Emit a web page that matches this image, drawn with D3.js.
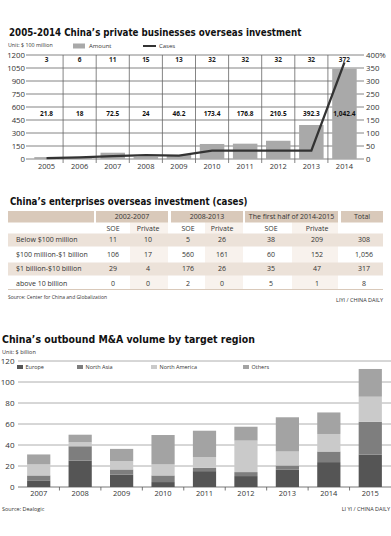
<!DOCTYPE html>
<html><head><meta charset="utf-8">
<script src="https://cdn.jsdelivr.net/npm/d3@7"></script>
<style>body{margin:0;background:#fff}svg{display:block}text{font-family:"Open Sans",Lato,sans-serif;fill:#333}</style>
</head><body><svg id="c" width="391" height="536"></svg>
<script>
// ---- Chart 1 data ----
const years1 = ["2005","2006","2007","2008","2009","2010","2011","2012","2013","2014"];
const amount = [21.8,18,72.5,24,46.2,173.4,176.8,210.5,392.3,1042.4];
const amountLabels = ["21.8","18","72.5","24","46.2","173.4","176.8","210.5","392.3","1,042.4"];
const cases = [3,6,11,15,13,32,32,32,32,372];
const leftTicks = [0,150,300,450,600,750,900,1050,1200];
const rightTicks = [0,50,100,150,200,250,300,350,400];
const rightTickLabels = ["0","50","100","150","200","250","300","350","400%"];

// ---- Table data ----
const periods = ["2002-2007","2008-2013","The first half of 2014-2015","Total"];
const subHeads = ["SOE","Private","SOE","Private","SOE","Private",""];
const rowLabels = ["Below $100 million","$100 million-$1 billion","$1 billion-$10 billion","above 10 billion"];
const tableValues = [
  ["11","10","5","26","38","209","308"],
  ["106","17","560","161","60","152","1,056"],
  ["29","4","176","26","35","47","317"],
  ["0","0","2","0","5","1","8"]
];

// ---- Chart 3 data ----
const years2 = ["2007","2008","2009","2010","2011","2012","2013","2014","2015"];
const regions = ["Europe","North Asia","North America","Others"];
const europe = [6.3,25.2,11.7,4.7,15.1,10.4,16.4,23.7,30.9];
const northAsia = [4.7,13.6,5.0,6.3,3.2,3.8,4.1,10.1,31.2];
const northAmerica = [10.5,3.8,7.9,10.5,10.1,30.0,13.3,16.7,23.9];
const others = [9.5,7.2,11.7,28.0,25.2,13.2,32.6,20.5,26.4];
const ticks2 = [0,20,40,60,80,100,120];

const svg = d3.select("#c");
const titleFont = '"Liberation Sans Narrow","DejaVu Sans Condensed","Liberation Sans",sans-serif';

function title(x, y, size, len, t){
  const el = svg.append("text").attr("x",x).attr("y",y).attr("font-size",size).attr("font-weight","bold")
    .style("font-family",titleFont).style("fill","#111").text(t);
  const L = el.node().getComputedTextLength();
  if (L > 0) el.attr("font-size", size * len / L);
}

// ================= Chart 1 =================
title(9, 36, 13, 293, "2005-2014 China\u2019s private businesses overseas investment");
svg.append("text").attr("x",8).attr("y",45.5).attr("dy","0.35em").attr("font-size",5.3).text("Unit: $ 100 million");
svg.append("rect").attr("x",73).attr("y",43.5).attr("width",12).attr("height",5).attr("fill","#a9a9a9");
svg.append("text").attr("x",89).attr("y",46).attr("dy","0.35em").attr("font-size",6).text("Amount");
svg.append("line").attr("x1",143).attr("x2",156).attr("y1",46).attr("y2",46).attr("stroke","#333").attr("stroke-width",2);
svg.append("text").attr("x",159).attr("y",46).attr("dy","0.35em").attr("font-size",6).text("Cases");

const x1 = d3.scaleBand().domain(years1).range([30,361]);
const yL = d3.scaleLinear().domain([0,1200]).range([159,55]);
const yR = d3.scaleLinear().domain([0,400]).range([159,55]);
const bw1 = x1.bandwidth();

const g1 = svg.append("g");
g1.selectAll("line.h").data(leftTicks).join("line").attr("class","h")
  .attr("x1",26).attr("x2",364).attr("y1",d=>yL(d)).attr("y2",d=>yL(d))
  .attr("stroke","#666").attr("stroke-width",0.8);
g1.selectAll("line.v").data(years1.slice(1)).join("line").attr("class","v")
  .attr("x1",d=>x1(d)).attr("x2",d=>x1(d)).attr("y1",yL(1200)).attr("y2",yL(0)+4)
  .attr("stroke","#666").attr("stroke-width",0.8);

g1.selectAll("text.yl").data(leftTicks).join("text").attr("class","yl")
  .attr("x",25).attr("y",d=>yL(d)).attr("dy","0.35em").attr("text-anchor","end")
  .attr("font-size",7.8).text(d=>d);
g1.selectAll("text.yr").data(rightTicks).join("text").attr("class","yr")
  .attr("x",366).attr("y",d=>yR(d)).attr("dy","0.35em")
  .attr("font-size",7.8).text((d,i)=>rightTickLabels[i]);

g1.selectAll("rect.bar").data(amount).join("rect").attr("class","bar")
  .attr("x",(d,i)=>x1(years1[i])+bw1*0.13).attr("width",bw1*0.74)
  .attr("y",d=>yL(d)).attr("height",d=>yL(0)-yL(d)).attr("fill","#a9a9a9");

g1.append("path").datum(cases)
  .attr("d", d3.line().x((d,i)=>x1(years1[i])+bw1/2).y(d=>yR(d)))
  .attr("fill","none").attr("stroke","#333").attr("stroke-width",2.3);

g1.selectAll("text.cl").data(cases).join("text").attr("class","cl")
  .attr("x",(d,i)=>x1(years1[i])+bw1/2).attr("y",59.5).attr("dy","0.35em").attr("text-anchor","middle")
  .attr("font-size",6.5).attr("font-weight","bold").style("fill","#222").text(d=>d);
g1.selectAll("text.al").data(amountLabels).join("text").attr("class","al")
  .attr("x",(d,i)=>x1(years1[i])+bw1/2).attr("y",114).attr("dy","0.35em").attr("text-anchor","middle")
  .attr("font-size",6.5).attr("font-weight","bold").style("fill","#111").text(d=>d);
g1.selectAll("text.xl").data(years1).join("text").attr("class","xl")
  .attr("x",d=>x1(d)+bw1/2).attr("y",166).attr("dy","0.35em").attr("text-anchor","middle")
  .attr("font-size",7.5).text(d=>d);

// ================= Table =================
title(10, 205, 13, 238, "China\u2019s enterprises overseas investment (cases)");
const headFill = "#d9c9ba", bandFill = "#ece2d9", privFill = "#f8f2ed";
const headCells = [[8,94],[96,168],[171,243],[245,338],[341,383]];
const colCenters = [113,148,188,222,271,317,364];
const privCols = [[130,168],[205,243],[292,338]];
const rowY = [240,254.5,269,283.5];
const gt = svg.append("g");
gt.selectAll("rect.pc").data(privCols).join("rect").attr("class","pc")
  .attr("x",d=>d[0]).attr("width",d=>d[1]-d[0]).attr("y",222).attr("height",67).attr("fill",privFill);
gt.selectAll("rect.band").data(rowY.filter((d,i)=>i%2===0)).join("rect").attr("class","band")
  .attr("x",8).attr("width",375).attr("y",d=>d-6.5).attr("height",13).attr("fill",bandFill);
gt.selectAll("rect.hd").data(headCells).join("rect").attr("class","hd")
  .attr("x",d=>d[0]).attr("width",d=>d[1]-d[0]).attr("y",211).attr("height",11.5).attr("fill",headFill);
gt.selectAll("text.hd").data(periods).join("text").attr("class","hd")
  .attr("x",(d,i)=>(headCells[i+1][0]+headCells[i+1][1])/2).attr("y",216.8).attr("dy","0.35em")
  .attr("text-anchor","middle").attr("font-size",7).text(d=>d);
gt.selectAll("text.sh").data(subHeads).join("text").attr("class","sh")
  .attr("x",(d,i)=>colCenters[i]).attr("y",228.5).attr("dy","0.35em")
  .attr("text-anchor","middle").attr("font-size",7).text(d=>d);
gt.selectAll("text.rl").data(rowLabels).join("text").attr("class","rl")
  .attr("x",16).attr("y",(d,i)=>rowY[i]).attr("dy","0.35em").attr("font-size",7).text(d=>d);
tableValues.forEach((row,r)=>{
  gt.selectAll("text.v"+r).data(row).join("text").attr("class","v"+r)
    .attr("x",(d,i)=>colCenters[i]).attr("y",rowY[r]).attr("dy","0.35em")
    .attr("text-anchor","middle").attr("font-size",7).text(d=>d);
});
gt.append("line").attr("x1",8).attr("x2",383).attr("y1",289.5).attr("y2",289.5).attr("stroke",headFill).attr("stroke-width",1);
svg.append("text").attr("x",8).attr("y",297.5).attr("dy","0.35em").attr("font-size",5).text("Source: Center for China and Globalization");
svg.append("text").attr("x",383).attr("y",300).attr("dy","0.35em").attr("text-anchor","end").attr("font-size",5.5).text("LIYI / CHINA DAILY");

// ================= Chart 3 =================
title(2, 343, 15, 253, "China\u2019s outbound M&A volume by target region");
svg.append("text").attr("x",2).attr("y",352).attr("dy","0.35em").attr("font-size",5.5).text("Unit: $ billion");

const x2 = d3.scaleBand().domain(years2).range([18,391]);
const y2 = d3.scaleLinear().domain([0,120]).range([487,361]);
const bw2 = x2.bandwidth();
const color = d3.scaleOrdinal().domain(regions).range(["#555555","#7e7e7e","#cacaca","#a3a3a3"]);
const g3 = svg.append("g");
g3.selectAll("line.g").data(ticks2.slice(1)).join("line").attr("class","g")
  .attr("x1",18).attr("x2",391).attr("y1",d=>y2(d)).attr("y2",d=>y2(d))
  .attr("stroke","#9a9a9a").attr("stroke-width",0.8);
g3.selectAll("text.yl").data(ticks2).join("text").attr("class","yl")
  .attr("x",14.5).attr("y",d=>y2(d)).attr("dy","0.35em").attr("text-anchor","end")
  .attr("font-size",8).text(d=>d);

const rows2 = years2.map((y,i)=>({year:y,"Europe":europe[i],"North Asia":northAsia[i],"North America":northAmerica[i],"Others":others[i]}));
const stacked = d3.stack().keys(regions)(rows2);
g3.selectAll("g.s").data(stacked).join("g").attr("class","s").attr("fill",d=>color(d.key))
  .selectAll("rect").data(d=>d).join("rect")
  .attr("x",d=>x2(d.data.year)+bw2*0.22).attr("width",bw2*0.56)
  .attr("y",d=>y2(d[1])).attr("height",d=>y2(d[0])-y2(d[1]));

g3.append("line").attr("x1",18).attr("x2",391).attr("y1",y2(0)).attr("y2",y2(0)).attr("stroke","#555").attr("stroke-width",0.8);
g3.selectAll("line.t").data(years2.slice(1)).join("line").attr("class","t")
  .attr("x1",d=>x2(d)).attr("x2",d=>x2(d)).attr("y1",y2(0)).attr("y2",y2(0)+3.5)
  .attr("stroke","#555").attr("stroke-width",0.8);
g3.selectAll("text.xl").data(years2).join("text").attr("class","xl")
  .attr("x",d=>x2(d)+bw2/2).attr("y",493.5).attr("dy","0.35em").attr("text-anchor","middle")
  .attr("font-size",7.5).text(d=>d);

const legX = [17,77,151,243];
const lg = g3.selectAll("g.lg").data(regions).join("g").attr("class","lg")
  .attr("transform",(d,i)=>`translate(${legX[i]},367)`);
lg.append("rect").attr("x",0).attr("y",-2).attr("width",6).attr("height",4).attr("fill",d=>color(d));
lg.append("text").attr("x",8.5).attr("y",0).attr("dy","0.35em").attr("font-size",5.5).text(d=>d);

svg.append("text").attr("x",2).attr("y",509).attr("dy","0.35em").attr("font-size",5.5).text("Source: Dealogic");
svg.append("text").attr("x",390).attr("y",509).attr("dy","0.35em").attr("text-anchor","end").attr("font-size",5.5).text("LI YI / CHINA DAILY");
</script></body></html>
